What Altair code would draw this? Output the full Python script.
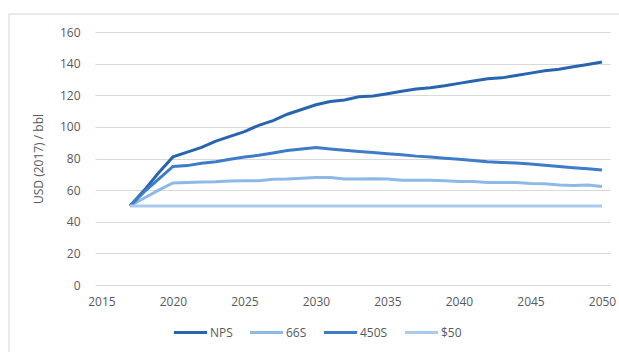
import altair as alt
import pandas as pd

years = list(range(2017, 2051))
nps = [50, 60, 71, 81, 84, 87, 91, 94, 97, 101, 104, 108, 111, 114, 116, 117, 119, 119.5,
       121, 122.5, 124, 124.8, 126, 127.5, 129, 130.5, 131, 132.5, 134, 135.5, 136.5, 138, 139.5, 141]
s66 = [50, 55, 60, 64.5, 64.8, 65.2, 65.3, 65.8, 66, 66, 66.8, 67, 67.5, 68, 68, 67, 67, 67.2,
       67, 66.2, 66.3, 66.3, 66, 65.5, 65.5, 64.8, 64.8, 64.8, 64.2, 64, 63.3, 63, 63.2, 62.3]
s450 = [50, 59, 67, 75, 75.5, 77, 78, 79.5, 81, 82, 83.5, 85, 86, 87, 86, 85.2, 84.5, 83.8,
        83, 82.3, 81.5, 81, 80.2, 79.5, 78.8, 78, 77.5, 77.2, 76.5, 75.7, 75, 74.2, 73.5, 72.8]
s50 = [50] * len(years)

series = ["NPS", "66S", "450S", "$50"]
colors = ["#2765AF", "#8DB9E6", "#3C7CC8", "#A9CBEC"]
x_ticks = [2015, 2020, 2025, 2030, 2035, 2040, 2045, 2050]
y_ticks = [0, 20, 40, 60, 80, 100, 120, 140, 160]

rows = []
for name, vals in zip(series, [nps, s66, s450, s50]):
    for yr, v in zip(years, vals):
        rows.append({"year": yr, "value": v, "scenario": name})
df = pd.DataFrame(rows)

FONT = "Open Sans"
W, H = 515, 253

border = alt.Chart(pd.DataFrame({"a": [0]})).mark_rect(
    fillOpacity=0, stroke="#E3E3E3", strokeWidth=1.5, clip=False
).encode(
    x=alt.value(-86), x2=alt.value(W + 30),
    y=alt.value(-18), y2=alt.value(H + 90)
)

lines = alt.Chart(df).mark_line(strokeWidth=3).encode(
    x=alt.X("year:Q",
            scale=alt.Scale(domain=[2014.55, 2050.56], nice=False, zero=False),
            axis=alt.Axis(values=x_ticks, format="d", title=None, grid=False,
                          domain=False, ticks=False, labelPadding=11,
                          labelFontSize=12, labelColor="#595959", labelFont=FONT)),
    y=alt.Y("value:Q",
            scale=alt.Scale(domain=[0, 160], nice=False),
            axis=alt.Axis(values=y_ticks, title="USD (2017) / bbl", grid=True,
                          gridColor="#D9D9D9", gridWidth=1, domain=False, ticks=False,
                          labelPadding=15, labelFontSize=12, labelColor="#595959",
                          labelFont=FONT, titleFont=FONT, titleFontSize=12,
                          titleFontWeight="normal", titleColor="#595959",
                          titlePadding=14)),
    color=alt.Color("scenario:N",
                    scale=alt.Scale(domain=series, range=colors),
                    legend=alt.Legend(title=None, orient="none", direction="horizontal",
                                      legendX=77, legendY=282, symbolType="stroke",
                                      symbolSize=1100, symbolStrokeWidth=3,
                                      labelFontSize=12, labelColor="#595959",
                                      labelFont=FONT, labelOffset=1, columnPadding=10,
                                      gridAlign="none")),
    order=alt.Order("year:Q")
)

chart = alt.layer(border, lines).properties(
    width=W, height=H,
    autosize=alt.AutoSizeParams(type="none"),
    padding={"left": 95, "top": 32, "right": 9, "bottom": 67},
    background="white"
).configure_view(stroke=None)

chart.save("out.html", embed_options={"renderer": "svg", "actions": False})
